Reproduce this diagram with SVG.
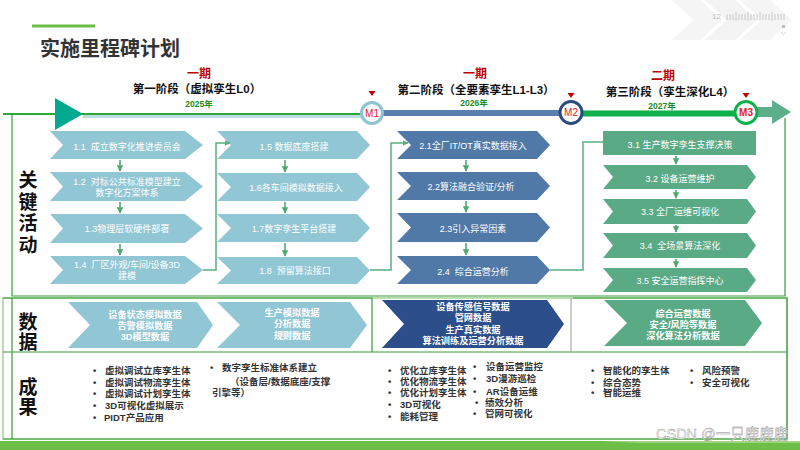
<svg xmlns="http://www.w3.org/2000/svg" width="800" height="450" viewBox="0 0 800 450">
<defs>
<style>
text{font-family:"Liberation Sans","Noto Sans CJK SC",sans-serif}
.w{fill:#fff;font-size:9px;text-anchor:middle}
.wb{fill:#fff;font-size:9.2px;font-weight:bold;text-anchor:middle}
.r{fill:#333;font-size:9.5px;font-weight:bold}
.lab{fill:#111;font-size:19px;font-weight:bold;text-anchor:middle}
.lb{fill:#91C6D4}
.db{fill:#5079A8}
.gr{fill:#5AAA86}
.nv{fill:#2C4E8A}
.conn{fill:none;stroke:#5BAF80;stroke-width:1.5}
.sa{fill:none;stroke:#4EA872;stroke-width:1.6}
.ph{fill:#C00000;font-size:12px;font-weight:bold;text-anchor:middle}
.st{fill:#111;font-size:11.5px;font-weight:bold;text-anchor:middle}
.yr{fill:#1A8A1A;font-size:8.5px;font-weight:bold;text-anchor:middle}
.ms{fill:#E82020;font-size:10px;text-anchor:middle}
.frame{fill:none;stroke:#3A9B3A;stroke-width:1.2}
.lframe{fill:none;stroke:#8CCB7A;stroke-width:1.2}
</style>
<marker id="ah" viewBox="0 0 10 10" refX="9" refY="5" markerWidth="4" markerHeight="4" orient="auto">
<path d="M0,0 L10,5 L0,10 z" fill="#4EA872"/>
</marker>
<marker id="ah2" viewBox="0 0 10 10" refX="9" refY="5" markerWidth="4" markerHeight="4" orient="auto">
<path d="M0,0 L10,5 L0,10 z" fill="#5BAF80"/>
</marker>
</defs>
<rect width="800" height="450" fill="#fff"/>

<g id="deco">
<path d="M672,0 L700,0 L722,20 L700,40 L672,40 L694,20 Z" fill="#f5f5f5"/>
<path d="M705,0 L735,0 L757,20 L735,40 L705,40 L727,20 Z" fill="#f3f3f3"/>
<path d="M740,0 L770,0 L792,20 L770,40 L740,40 L762,20 Z" fill="#f5f5f5"/>
<text x="712" y="19" style="fill:#bbb;font-size:8px">12</text>
<path d="M727,14V20M730,14V20M733,14V20M736,12V21M739,14V20M742,14V20M745,14V20M748,12V21M751,14V20M754,14V20M757,14V20M760,12V21M763,14V20M766,14V20M769,14V20M772,12V21M775,14V20M778,14V20M781,14V20M784,14V20" stroke="#c8c8c8" stroke-width="1"/>
<rect x="782" y="25" width="3" height="3" fill="#bbb"/>
<path d="M781,32 L783.5,34.5 L786,32" fill="none" stroke="#ccc" stroke-width="0.8"/>
</g>

<g id="title">
<line x1="32" y1="26" x2="95" y2="26" stroke="#6CBF46" stroke-width="3"/>
<text x="40" y="56" style="fill:#333;font-size:20px;font-weight:bold">实施里程碑计划</text>
</g>

<g id="frames">
<path class="frame" d="M12,114 V296 H785 V118"/>
<rect class="lframe" x="3" y="298" width="784" height="141"/>
<path class="frame" d="M12,298 V439 M3,298 H372 V352 M573,298 H787 V439 M3,352 H787 M3,439 H787"/>
<line x1="571" y1="298" x2="571" y2="352" stroke="#aaa" stroke-width="1.2"/>
</g>

<g id="timeline">
<rect x="83" y="114.5" width="280" height="3.5" fill="#BFDDE6"/>
<line x1="3" y1="114" x2="362" y2="114" stroke="#2EA836" stroke-width="1.8"/>
<polygon points="55,98 83,114 55,130" fill="#00A98F"/>
<rect x="380" y="110" width="182" height="6" fill="#5B80AD"/>
<rect x="580" y="110.5" width="157" height="6" fill="#0DB04B"/>
<polygon points="756,107 772,107 772,100 791,112 772,124 772,117 756,117" fill="#5DAE8B"/>
<polygon points="368.5,91 375.5,91 372,96" fill="#C00000"/>
<polygon points="567.5,93 574.5,93 571,98" fill="#C00000"/>
<polygon points="742.5,93 749.5,93 746,98" fill="#C00000"/>
</g>

<g id="M1">
<circle cx="372" cy="113" r="10.5" fill="#fff" stroke="#8EC3D2" stroke-width="3"/>
<text class="ms" x="372" y="116.5">M1</text>
</g>
<g id="M2">
<circle cx="571" cy="112.5" r="11" fill="#fff" stroke="#2B4C7E" stroke-width="3"/>
<text class="ms" x="571" y="116">M2</text>
</g>
<g id="M3">
<circle cx="746" cy="112.5" r="11" fill="#fff" stroke="#0DB04B" stroke-width="3"/>
<text class="ms" x="746" y="116" style="font-weight:bold">M3</text>
</g>

<g id="stage1">
<text class="ph" x="199" y="78">一期</text>
<text class="st" x="197" y="93">第一阶段（虚拟孪生L0）</text>
<text class="yr" x="199" y="107">2025年</text>
</g>
<g id="stage2">
<text class="ph" x="475" y="78">一期</text>
<text class="st" x="476" y="94">第二阶段（全要素孪生L1-L3）</text>
<text class="yr" x="474" y="106">2026年</text>
</g>
<g id="stage3">
<text class="ph" x="663" y="80">二期</text>
<text class="st" x="670" y="96">第三阶段（孪生深化L4）</text>
<text class="yr" x="662" y="109">2027年</text>
</g>

<g id="label-activities">
<text class="lab" x="28" y="187">关</text>
<text class="lab" x="28" y="209">键</text>
<text class="lab" x="28" y="230">活</text>
<text class="lab" x="28" y="252">动</text>
</g>
<g id="label-data">
<text class="lab" x="28" y="329">数</text>
<text class="lab" x="28" y="349">据</text>
</g>
<g id="label-results">
<text class="lab" x="28" y="394">成</text>
<text class="lab" x="28" y="414">果</text>
</g>

<g id="a11"><path class="lb" d="M50,131 H185 L203,145 L185,159 H50 L63,145 Z"/><text class="w" x="127" y="150" xml:space="preserve">1.1  成立数字化推进委员会</text></g>
<g id="a12"><path class="lb" d="M50,172 H185 L203,186.5 L185,201 H50 L63,186.5 Z"/><text class="w" x="127" y="185" xml:space="preserve">1.2  对标公共标准模型建立</text><text class="w" x="127" y="196">数字化方案体系</text></g>
<g id="a13"><path class="lb" d="M50,214 H185 L203,228.5 L185,243 H50 L63,228.5 Z"/><text class="w" x="127" y="232">1.3物理层软硬件部署</text></g>
<g id="a14"><path class="lb" d="M50,256 H185 L203,270 L185,284 H50 L63,270 Z"/><text class="w" x="127" y="268" xml:space="preserve">1.4  厂区外观/车间/设备3D</text><text class="w" x="127" y="279">建模</text></g>

<g id="a15"><path class="lb" d="M217,131 H357 L370,145 L357,159 H217 L231,145 Z"/><text class="w" x="294" y="150">1.5 数据底座搭建</text></g>
<g id="a16"><path class="lb" d="M217,173 H357 L370,187 L357,201 H217 L231,187 Z"/><text class="w" x="296" y="191">1.6各车间模拟数据接入</text></g>
<g id="a17"><path class="lb" d="M217,214 H357 L370,228 L357,242 H217 L231,228 Z"/><text class="w" x="294" y="232">1.7数字孪生平台搭建</text></g>
<g id="a18"><path class="lb" d="M217,257 H357 L370,270.5 L357,284 H217 L231,270.5 Z"/><text class="w" x="295" y="273.5" xml:space="preserve">1.8  预留算法接口</text></g>

<g id="a21"><path class="db" d="M397,131 H537 L550,145 L537,159 H397 L411,145 Z"/><text class="w" x="473" y="149">2.1全厂IT/OT真实数据接入</text></g>
<g id="a22"><path class="db" d="M397,172 H537 L550,186 L537,200 H397 L411,186 Z"/><text class="w" x="471" y="190">2.2算法融合验证/分析</text></g>
<g id="a23"><path class="db" d="M397,213 H537 L550,227.5 L537,242 H397 L411,227.5 Z"/><text class="w" x="473" y="232">2.3引入异常因素</text></g>
<g id="a24"><path class="db" d="M397,256 H537 L550,270 L537,284 H397 L411,270 Z"/><text class="w" x="473" y="275" xml:space="preserve">2.4  综合运营分析</text></g>

<g id="a31"><rect class="gr" x="603" y="131" width="153" height="24"/><text class="w" x="680" y="148">3.1 生产数字孪生支撑决策</text></g>
<g id="a32"><path class="gr" d="M603,165 H747 L756,177 L747,189 H603 L613,177 Z"/><text class="w" x="680" y="182">3.2 设备运营维护</text></g>
<g id="a33"><path class="gr" d="M603,199 H747 L756,211.5 L747,224 H603 L613,211.5 Z"/><text class="w" x="680" y="215">3.3 全厂运维可视化</text></g>
<g id="a34"><path class="gr" d="M603,233 H747 L756,245.5 L747,258 H603 L613,245.5 Z"/><text class="w" x="680" y="249" xml:space="preserve">3.4  全场景算法深化</text></g>
<g id="a35"><path class="gr" d="M603,268 H747 L756,280 L747,292 H603 L613,280 Z"/><text class="w" x="680" y="284">3.5 安全运营指挥中心</text></g>

<g id="connectors">
<path class="sa" marker-end="url(#ah)" d="M120,160 V171"/>
<path class="sa" marker-end="url(#ah)" d="M120,202 V213"/>
<path class="sa" marker-end="url(#ah)" d="M120,244 V255"/>
<path class="sa" marker-end="url(#ah)" d="M285,160 V172"/>
<path class="sa" marker-end="url(#ah)" d="M285,202 V213"/>
<path class="sa" marker-end="url(#ah)" d="M285,243 V256"/>
<path class="sa" marker-end="url(#ah)" d="M466,160 V171"/>
<path class="sa" marker-end="url(#ah)" d="M466,201 V212"/>
<path class="sa" marker-end="url(#ah)" d="M466,243 V255"/>
<path class="sa" marker-end="url(#ah)" d="M676,156 V164"/>
<path class="sa" marker-end="url(#ah)" d="M676,190 V198"/>
<path class="sa" marker-end="url(#ah)" d="M676,225 V232"/>
<path class="sa" marker-end="url(#ah)" d="M676,259 V267"/>
<path class="conn" marker-end="url(#ah2)" d="M203,270 H216 V143 H230"/>
<path class="conn" marker-end="url(#ah2)" d="M370,270 H391 V143 H408"/>
<path class="conn" d="M550,270 H583 V142 H603"/>
</g>

<g id="d1"><path class="lb" d="M68,302 H197 L213,325 L197,348 H68 L90,325 Z"/><text class="wb" x="145" y="318">设备状态模拟数据</text><text class="wb" x="145" y="329">告警模拟数据</text><text class="wb" x="145" y="340">3D模型数据</text></g>
<g id="d2"><path class="lb" d="M217,302 H350 L367,325 L350,348 H217 L240,325 Z"/><text class="wb" x="292" y="316">生产模拟数据</text><text class="wb" x="292" y="327">分析数据</text><text class="wb" x="292" y="339">规则数据</text></g>
<g id="d3"><path class="nv" d="M382,300 H547 L564,324 L547,348 H382 L404,324 Z"/><text class="wb" x="473" y="310">设备传感信号数据</text><text class="wb" x="473" y="321">管网数据</text><text class="wb" x="473" y="333">生产真实数据</text><text class="wb" x="473" y="344">算法训练及运营分析数据</text></g>
<g id="d4"><path class="gr" d="M604,300 H745 L762,323 L745,346 H604 L627,323 Z"/><text class="wb" x="683" y="317">综合运营数据</text><text class="wb" x="683" y="328">安全/风险等数据</text><text class="wb" x="683" y="339">深化算法分析数据</text></g>

<g id="r1">
<text x="93" y="374" class="r">•</text><text x="105" y="374" class="r">虚拟调试立库孪生体</text>
<text x="93" y="386" class="r">•</text><text x="105" y="386" class="r">虚拟调试物流孪生体</text>
<text x="93" y="397" class="r">•</text><text x="105" y="397" class="r">虚拟调试计划孪生体</text>
<text x="93" y="409" class="r">•</text><text x="105" y="409" class="r">3D可视化虚拟展示</text>
<text x="93" y="421" class="r">•</text><text x="104" y="421" class="r">PIDT产品应用</text>
</g>
<g id="r2">
<text x="210" y="371" class="r">•</text><text x="222" y="371" class="r">数字孪生标准体系建立</text>
<text x="230" y="385" class="r">（设备层/数据底座/支撑</text>
<text x="212" y="396" class="r">引擎等）</text>
</g>
<g id="r3">
<text x="388" y="374" class="r">•</text><text x="400" y="374" class="r">优化立库孪生体</text>
<text x="388" y="385" class="r">•</text><text x="400" y="385" class="r">优化物流孪生体</text>
<text x="388" y="396" class="r">•</text><text x="400" y="396" class="r">优化计划孪生体</text>
<text x="388" y="408" class="r">•</text><text x="400" y="408" class="r">3D可视化</text>
<text x="388" y="420" class="r">•</text><text x="400" y="420" class="r">能耗管理</text>
</g>
<g id="r4">
<text x="473" y="370" class="r">•</text><text x="486" y="370" class="r">设备运营监控</text>
<text x="473" y="382" class="r">•</text><text x="486" y="382" class="r">3D漫游巡检</text>
<text x="473" y="395" class="r">•</text><text x="486" y="395" class="r">AR设备运维</text>
<text x="475" y="406" class="r">•</text><text x="485" y="406" class="r">绩效分析</text>
<text x="473" y="417" class="r">•</text><text x="485" y="417" class="r">管网可视化</text>
</g>
<g id="r5">
<text x="591" y="374" class="r">•</text><text x="603" y="374" class="r">智能化的孪生体</text>
<text x="591" y="386" class="r">•</text><text x="603" y="386" class="r">综合态势</text>
<text x="591" y="396" class="r">•</text><text x="603" y="396" class="r">智能运维</text>
</g>
<g id="r6">
<text x="690" y="374" class="r">•</text><text x="702" y="374" class="r">风险预警</text>
<text x="690" y="386" class="r">•</text><text x="702" y="386" class="r">安全可视化</text>
</g>

<g id="bottom">
<rect x="0" y="441" width="800" height="9" fill="#6CBE46"/>
<polygon points="600,441 800,441 800,443 640,443" fill="#9ED57F"/>
<text x="656" y="439" style="fill:#fff;stroke:#8a8a8a;stroke-width:0.4;font-size:14.5px">CSDN @一只鹿鹿鹿</text>
</g>
</svg>
